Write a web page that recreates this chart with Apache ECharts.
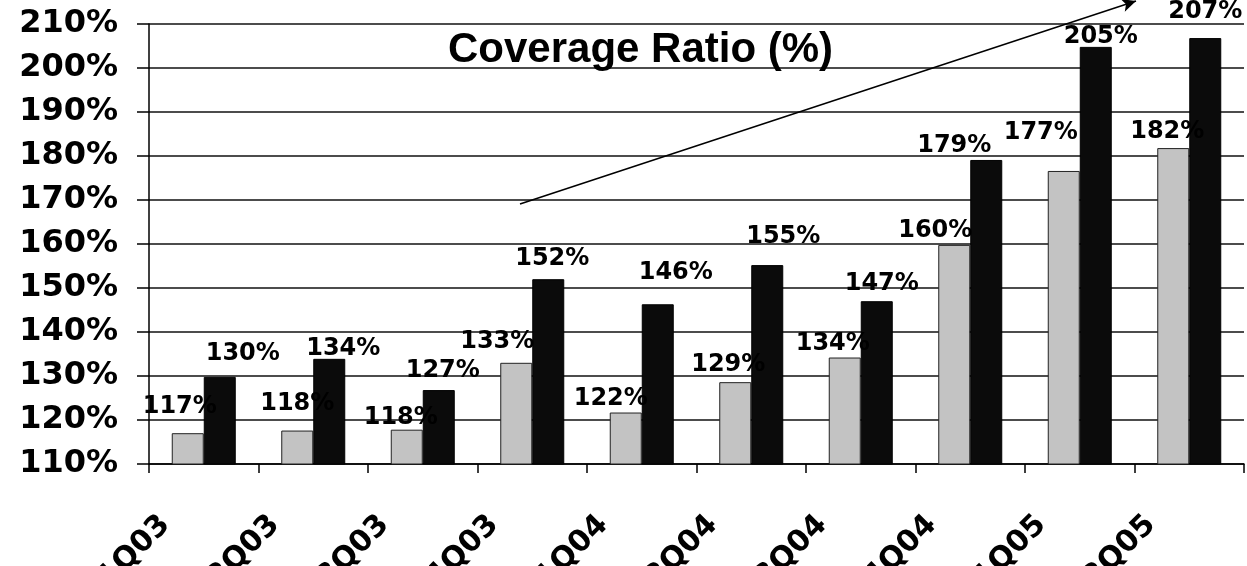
<!DOCTYPE html>
<html>
<head>
<meta charset="utf-8">
<script src="https://cdn.jsdelivr.net/npm/echarts@6/dist/echarts.min.js"></script>
<style>
html,body{margin:0;padding:0;background:#fff;overflow:hidden;}
#chart{width:1247px;height:566px;}
</style>
</head>
<body>
<div id="chart"></div>
<script>
// ---- data ----
const categories = ['1Q03','2Q03','3Q03','4Q03','1Q04','2Q04','3Q04','4Q04','1Q05','2Q05'];
const seriesGray  = [117.0, 117.6, 117.8, 133.0, 121.7, 128.6, 134.2, 159.8, 176.6, 181.8];
const seriesBlack = [129.8, 133.9, 126.8, 152.0, 146.3, 155.2, 147.0, 179.1, 204.8, 206.8];
const yTicks = { min: 110, max: 210, step: 10 };
const titleText = 'Coverage Ratio (%)';

// ---- layout (label nudges, relative to each bar top) ----
const grayLabelOffsets  = [[-8,-14],[0,-15],[-6,0],[-19,-9],[-15,-2],[-7,-5],[-12,-2],[-19,-2],[-23,-26],[-6,-4]];
const blackLabelOffsets = [[23,-11],[14,2],[4,-7],[4,-8],[18,-20],[16,-16],[5,-5],[-32,-2],[5,2],[0,-14]];

const labelFont = { fontFamily: 'DejaVu Sans', fontWeight: 'bold', fontSize: 24, lineHeight: 24, color: '#000' };
const fmt = p => Math.round(p.value) + '%';

const dom = document.getElementById('chart');
const chart = echarts.init(dom, null, { renderer: 'canvas', width: 1247, height: 566 });
chart.setOption({
  animation: false,
  backgroundColor: '#fff',
  title: {
    text: titleText,
    left: 443, top: 24,
    textStyle: { fontFamily: 'Liberation Sans', fontWeight: 'bold', fontSize: 42, color: '#000' }
  },
  grid: { left: 149, right: 3, top: 24, bottom: 102, containLabel: false, outerBoundsMode: 'none' },
  xAxis: {
    type: 'category',
    data: categories,
    axisLine: { lineStyle: { color: '#000', width: 1.5 } },
    axisTick: { show: true, length: 9, lineStyle: { color: '#000', width: 1.5 } },
    axisLabel: {
      rotate: 45, margin: 18, padding: [0, 54, 0, 0], interval: 0,
      fontFamily: 'DejaVu Sans', fontWeight: 'bold', fontSize: 30, color: '#000'
    },
    splitLine: { show: false }
  },
  yAxis: {
    type: 'value',
    min: yTicks.min, max: yTicks.max, interval: yTicks.step,
    axisLine: { show: true, lineStyle: { color: '#000', width: 1.5 } },
    axisTick: { show: true, length: 12, lineStyle: { color: '#000', width: 1.5 } },
    axisLabel: {
      formatter: '{value}%', margin: 31,
      fontFamily: 'DejaVu Sans', fontWeight: 'bold', fontSize: 32, color: '#000'
    },
    splitLine: { show: true, lineStyle: { color: '#111', width: 1.5 } }
  },
  series: [
    {
      type: 'bar',
      barWidth: 32,
      barGap: '0%',
      data: seriesGray.map((v, i) => ({ value: v, label: { offset: grayLabelOffsets[i] } })),
      itemStyle: { color: '#c3c3c3', borderColor: '#222', borderWidth: 1 },
      label: Object.assign({ show: true, position: 'top', distance: 0, formatter: fmt }, labelFont),
      z: 2,
      markLine: {
        silent: true,
        symbol: ['none', 'arrow'],
        symbolSize: [10, 14],
        label: { show: false },
        lineStyle: { color: '#000', width: 1.5, type: 'solid' },
        data: [[{ x: 520, y: 204 }, { x: 1136, y: 1 }]]
      }
    },
    {
      type: 'bar',
      barWidth: 32,
      barGap: '0%',
      data: seriesBlack.map((v, i) => ({ value: v, label: { offset: blackLabelOffsets[i] } })),
      itemStyle: { color: '#0b0b0b', borderColor: '#000', borderWidth: 1 },
      label: Object.assign({ show: true, position: 'top', distance: 0, formatter: fmt }, labelFont),
      z: 2
    }
  ]
});
</script>
</body>
</html>
